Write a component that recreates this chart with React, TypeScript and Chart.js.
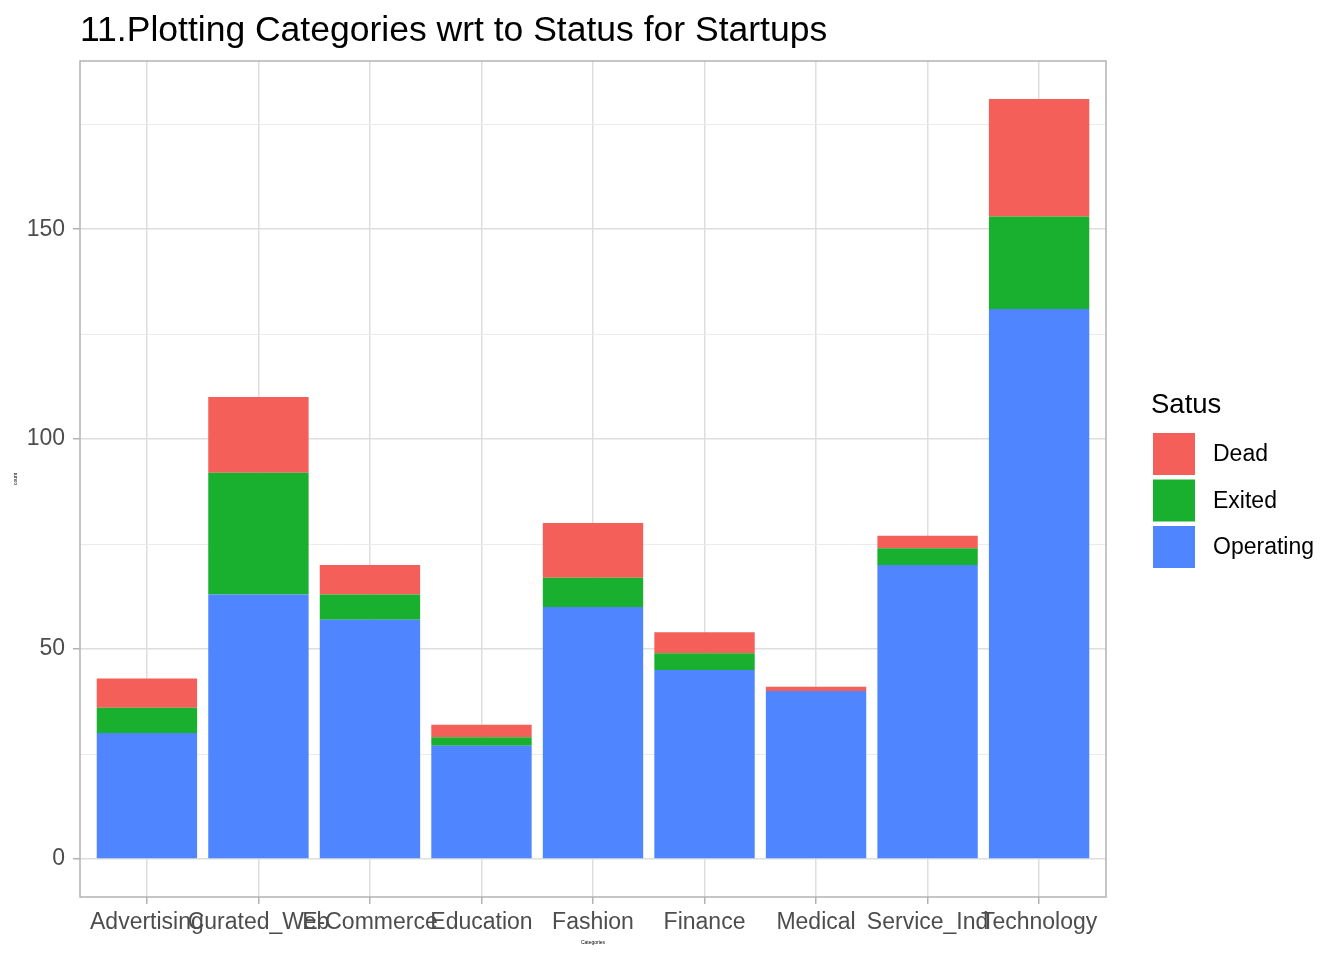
import React, { useEffect, useRef } from "react";
import { Chart, registerables } from "chart.js";

Chart.register(...registerables);

const categories = [
  "Advertising",
  "Curated_Web",
  "E-Commerce",
  "Education",
  "Fashion",
  "Finance",
  "Medical",
  "Service_Ind",
  "Technology",
];
const operating = [30, 63, 57, 27, 60, 45, 40, 70, 131];
const exited = [6, 29, 6, 2, 7, 4, 0, 4, 22];
const dead = [7, 18, 7, 3, 13, 5, 1, 3, 28];
const yTicks = [0, 25, 50, 75, 100, 125, 150, 175];
const legendLabels = ["Dead", "Exited", "Operating"];

const RED = "#F55F5A";
const GREEN = "#18B02E";
const BLUE = "#4F86FF";
const FONT = "'Liberation Sans', Arial, Helvetica, sans-serif";

export default function App() {
  const ref = useRef<HTMLCanvasElement | null>(null);

  useEffect(() => {
    document.body.style.margin = "0";
    const canvas = ref.current;
    if (!canvas) return;

    const extras = {
      id: "extras",
      afterDatasetsDraw(chart: any) {
        const { ctx, chartArea } = chart;
        ctx.save();
        ctx.strokeStyle = "#B3B3B3";
        ctx.lineWidth = 1.5;
        ctx.strokeRect(
          chartArea.left,
          chartArea.top,
          chartArea.right - chartArea.left,
          chartArea.bottom - chartArea.top
        );
        ctx.restore();
      },
      afterDraw(chart: any) {
        const { ctx, chartArea } = chart;
        ctx.save();
        // title
        ctx.fillStyle = "#000000";
        ctx.font = `35.5px ${FONT}`;
        ctx.textAlign = "left";
        ctx.textBaseline = "alphabetic";
        ctx.fillText("11.Plotting Categories wrt to Status for Startups", 80, 41);

        // axis titles
        ctx.font = `5px ${FONT}`;
        ctx.textAlign = "center";
        ctx.textBaseline = "middle";
        ctx.fillText("Categories", (chartArea.left + chartArea.right) / 2, 943);
        ctx.save();
        ctx.translate(16, (chartArea.top + chartArea.bottom) / 2);
        ctx.rotate(-Math.PI / 2);
        ctx.fillText("count", 0, 0);
        ctx.restore();

        // legend
        ctx.textAlign = "left";
        ctx.textBaseline = "alphabetic";
        ctx.font = `27.5px ${FONT}`;
        ctx.fillText("Satus", 1151, 413);
        const colors = [RED, GREEN, BLUE];
        ctx.font = `23px ${FONT}`;
        ctx.textBaseline = "middle";
        legendLabels.forEach((lab, i) => {
          const top = 433 + i * 46.5;
          ctx.fillStyle = colors[i];
          ctx.fillRect(1153, top, 42, 42);
          ctx.fillStyle = "#000000";
          ctx.fillText(lab, 1213, top + 22);
        });
        ctx.restore();
      },
    };

    const toXY = (arr: number[]) => arr.map((v, i) => ({ x: i + 1, y: v }));

    const chart = new Chart(canvas, {
      type: "bar",
      data: {
        datasets: [
          { label: "Operating", data: toXY(operating), backgroundColor: BLUE },
          { label: "Exited", data: toXY(exited), backgroundColor: GREEN },
          { label: "Dead", data: toXY(dead), backgroundColor: RED },
        ],
      },
      options: {
        responsive: false,
        animation: false,
        events: [],
        layout: { padding: { top: 61, right: 238, left: 0, bottom: 0 } },
        datasets: {
          bar: {
            barPercentage: 0.9,
            categoryPercentage: 1.0,
            borderWidth: 0,
          },
        },
        plugins: {
          legend: { display: false },
          tooltip: { enabled: false },
          title: { display: false },
        },
        scales: {
          x: {
            type: "linear",
            stacked: true,
            min: 0.4,
            max: 9.6,
            offset: false,
            afterBuildTicks: (scale: any) => {
              scale.ticks = categories.map((_, i) => ({ value: i + 1 }));
            },
            afterFit: (scale: any) => {
              scale.height = 63;
            },
            ticks: {
              autoSkip: false,
              maxRotation: 0,
              minRotation: 0,
              padding: 5,
              color: "#4D4D4D",
              font: { family: FONT, size: 23 },
              callback: (v: any) => categories[Math.round(Number(v)) - 1] ?? "",
            },
            grid: {
              offset: false,
              color: "#DEDEDE",
              lineWidth: 1.5,
              drawTicks: true,
              tickLength: 7,
              tickColor: "#B3B3B3",
              tickWidth: 1.5,
            },
            border: { display: false },
          },
          y: {
            type: "linear",
            stacked: true,
            min: -9.05,
            max: 190.05,
            afterBuildTicks: (scale: any) => {
              scale.ticks = yTicks.map((v) => ({ value: v }));
            },
            afterFit: (scale: any) => {
              scale.width = 80;
            },
            ticks: {
              padding: 8,
              color: "#4D4D4D",
              font: { family: FONT, size: 23 },
              callback: (v: any) => (Number(v) % 50 === 0 ? String(v) : ""),
            },
            grid: {
              color: (c: any) => (c.tick && c.tick.value % 50 === 0 ? "#DEDEDE" : "#EBEBEB"),
              lineWidth: (c: any) => (c.tick && c.tick.value % 50 === 0 ? 1.5 : 1),
              drawTicks: true,
              tickLength: 7,
              tickColor: (c: any) =>
                c.tick && c.tick.value % 50 === 0 ? "#B3B3B3" : "rgba(0,0,0,0)",
              tickWidth: 1.5,
            },
            border: { display: false },
          },
        },
      },
      plugins: [extras],
    } as any);

    return () => chart.destroy();
  }, []);

  return (
    <div style={{ width: 1344, height: 960, background: "#ffffff" }}>
      <canvas ref={ref} width={1344} height={960} style={{ display: "block" }} />
    </div>
  );
}
